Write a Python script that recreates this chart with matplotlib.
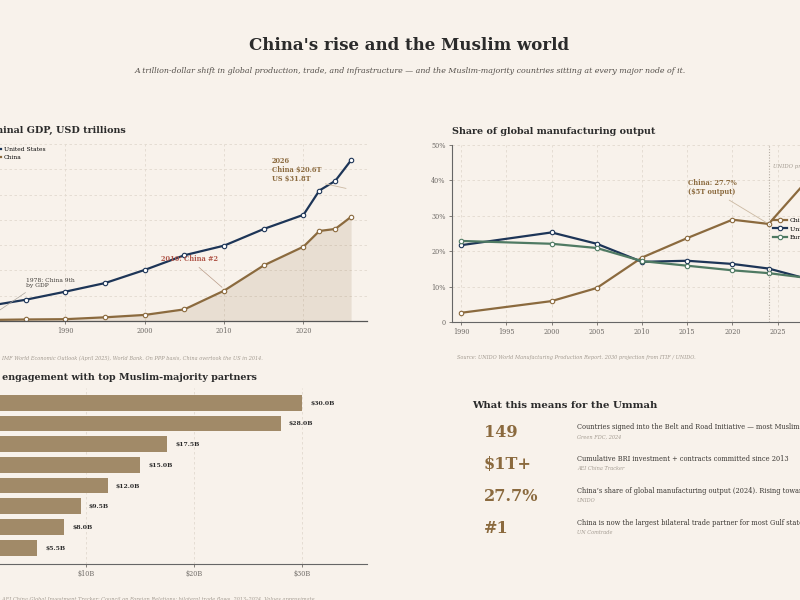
import matplotlib.pyplot as plt

BG = '#f8f2eb'
INK = '#2b2b2b'
GREY = '#6e6a66'
SOFT = '#a29a90'
GRID = '#e2dacf'
NAVY = '#1d3557'
GOLD = '#8b6a3e'
GREEN = '#4f7a63'
TAN = '#a18a68'
RUST = '#b0574a'

plt.rcParams['font.family'] = ['DejaVu Serif']

# --- data ---
gdp_years = [1980, 1985, 1990, 1995, 2000, 2005, 2010, 2015, 2020, 2022, 2024, 2026]
gdp_us = [2.9, 4.2, 5.8, 7.5, 10.1, 13.0, 14.9, 18.2, 21.0, 25.8, 27.7, 31.8]
gdp_china = [0.2, 0.3, 0.36, 0.73, 1.2, 2.3, 6.0, 11.0, 14.7, 17.8, 18.2, 20.6]

mfg_years = [1990, 2000, 2005, 2010, 2015, 2020, 2024, 2030]
mfg_china = [2.6, 5.9, 9.6, 18.2, 23.7, 28.9, 27.7, 45.0]
mfg_us = [21.7, 25.3, 22.1, 17.0, 17.3, 16.4, 15.1, 11.0]
mfg_europe = [22.9, 22.1, 20.9, 17.2, 15.9, 14.6, 13.8, 11.9]

partners = ['Saudi Arabia', 'UAE', 'Indonesia', 'Pakistan', 'Malaysia', 'Egypt', 'Iraq', 'Kazakhstan']
engagement = [30.0, 28.0, 17.5, 15.0, 12.0, 9.5, 8.0, 5.5]

stat_values = ['149', '$1T+', '27.7%', '#1']
stat_texts = ['Countries signed into the Belt and Road Initiative \u2014 most Muslim-majority nations among them',
              'Cumulative BRI investment + contracts committed since 2013',
              "China\u2019s share of global manufacturing output (2024). Rising toward 45% by 2030",
              'China is now the largest bilateral trade partner for most Gulf states and Central Asia']
stat_sources = ['Green FDC, 2024', 'AEI China Tracker', 'UNIDO', 'UN Comtrade']

W, H = 800, 600
fig = plt.figure(figsize=(8, 6), dpi=100, facecolor=BG)


def box(l, t, r, b):
    ax = fig.add_axes([l / W, 1 - b / H, (r - l) / W, (b - t) / H])
    ax.set_facecolor(BG)
    for s in ax.spines.values():
        s.set_visible(False)
    ax.tick_params(labelsize=4.7, colors=GREY, length=2.5, width=0.6, pad=2)
    return ax


def ftext(x, y, s, **kw):
    fig.text(x / W, 1 - y / H, s, **kw)


ftext(409, 46, "China's rise and the Muslim world", ha='center', va='center',
      fontsize=12, fontweight='bold', color=INK)
ftext(410, 71, 'A trillion-dollar shift in global production, trade, and infrastructure \u2014 and the '
      'Muslim-majority countries sitting at every major node of it.', ha='center', va='center',
      fontsize=5.65, style='italic', color='#55504b')

# --- GDP panel ---
ax = box(-22, 144, 367, 321)
ax.fill_between(gdp_years, gdp_china, color=GOLD, alpha=0.14, lw=0)
ax.plot(gdp_years, gdp_us, color=NAVY, lw=1.6, marker='o', ms=3.2, mfc='white', mec=NAVY, mew=0.8,
        label='United States')
ax.plot(gdp_years, gdp_china, color=GOLD, lw=1.6, marker='o', ms=3.2, mfc='white', mec=GOLD, mew=0.8,
        label='China')
ax.set_xlim(1979, 2028)
ax.set_ylim(0, 35)
ax.set_xticks([1980, 1990, 2000, 2010, 2020])
ax.set_yticks(range(0, 36, 5))
ax.grid(True, color=GRID, lw=0.6, ls=(0, (3, 3)))
ax.set_axisbelow(True)
ax.spines['bottom'].set_visible(True)
ax.spines['bottom'].set_color('#555')
ax.spines['bottom'].set_linewidth(0.9)
ax.set_title('Nominal GDP, USD trillions', loc='left', fontsize=6.9, fontweight='bold',
             color=INK, pad=8)
ax.legend(loc='upper left', bbox_to_anchor=(-13 / W, 1 - 147 / H), bbox_transform=fig.transFigure,
          frameon=False, fontsize=4.3, handlelength=2.3, handletextpad=0.5, labelspacing=0.5,
          borderpad=0, borderaxespad=0)
ax.annotate('2010: China #2', xy=(2010, 6.3), xytext=(2002.0, 12.3), fontsize=4.8,
            fontweight='bold', color=RUST, va='center',
            arrowprops=dict(arrowstyle='-', color='#b89a86', lw=0.5, shrinkB=2))
ax.annotate('2026\nChina $20.6T\nUS $31.8T', xy=(2025.7, 26.1), xytext=(2016.0, 32.4),
            fontsize=4.8, fontweight='bold', color=GOLD, va='top', linespacing=1.15,
            arrowprops=dict(arrowstyle='-', color='#cbb9a2', lw=0.6, relpos=(1, 0), shrinkA=1))
ax.annotate('1978: China 9th\nby GDP', xy=(1980, 0.3), xytext=(1985.05, 8.5), fontsize=4.3,
            color='#3d3a36', va='top', linespacing=1.05,
            arrowprops=dict(arrowstyle='-', color='#aaa49c', lw=0.5, relpos=(0.12, 0), shrinkA=2))
ftext(-19, 358, 'Source: IMF World Economic Outlook (April 2025), World Bank. On PPP basis, '
      'China overtook the US in 2014.', va='center', fontsize=3.6, style='italic', color=SOFT)

# --- manufacturing panel ---
ax = box(452, 145, 841, 322)
ax.plot(mfg_years, mfg_china, color=GOLD, lw=1.6, marker='o', ms=3.2, mfc='white', mec=GOLD, mew=0.8,
        label='China')
ax.plot(mfg_years, mfg_us, color=NAVY, lw=1.6, marker='o', ms=3.2, mfc='white', mec=NAVY, mew=0.8,
        label='United States')
ax.plot(mfg_years, mfg_europe, color=GREEN, lw=1.6, marker='o', ms=3.2, mfc='white', mec=GREEN,
        mew=0.8, label='Europe')
ax.set_xlim(1989, 2032)
ax.set_ylim(0, 50)
ax.set_xticks(range(1990, 2031, 5))
ax.set_yticks(range(0, 51, 10))
ax.set_yticklabels(['0'] + [f'{v}%' for v in range(10, 51, 10)])
ax.grid(True, color=GRID, lw=0.6, ls=(0, (3, 3)))
ax.set_axisbelow(True)
for s in ('left', 'bottom'):
    ax.spines[s].set_visible(True)
    ax.spines[s].set_color('#666')
    ax.spines[s].set_linewidth(0.8)
ax.axvline(2024, color='#b5ada3', lw=0.8, ls=(0, (1, 1.5)))
ax.text(2024.45, 43.8, 'UNIDO projection', fontsize=3.9, style='italic', color=SOFT, va='center')
ax.set_title('Share of global manufacturing output', loc='left', fontsize=6.9,
             fontweight='bold', color=INK, pad=8)
ax.annotate('China: 27.7%\n($5T output)', xy=(2024, 27.7), xytext=(2015.1, 40.4), fontsize=4.8,
            fontweight='bold', color=GOLD, va='top', linespacing=1.15,
            arrowprops=dict(arrowstyle='-', color='#cbb9a2', lw=0.6, relpos=(0.7, 0), shrinkB=2))
ax.legend(loc='upper left', bbox_to_anchor=(773 / W, 1 - 218 / H), bbox_transform=fig.transFigure,
          frameon=False, fontsize=4.5, handlelength=2.2, handletextpad=0.5, labelspacing=0.45,
          borderpad=0, borderaxespad=0)
ftext(457, 358, 'Source: UNIDO World Manufacturing Production Report. 2030 projection from ITIF / UNIDO.',
      va='center', fontsize=3.6, style='italic', color=SOFT)

# --- engagement bars ---
ax = box(-22, 388, 367, 564)
bars = ax.barh(range(len(partners)), engagement, height=0.76, color=TAN)
ax.bar_label(bars, labels=[f'${v:.1f}B' for v in engagement], padding=6, fontsize=4.4,
             fontweight='bold', color=INK)
ax.set_yticks(range(len(partners)))
ax.set_yticklabels(partners)
ax.set_xlim(0, 36)
ax.set_ylim(7.79, -0.71)
ax.set_xticks([0, 10, 20, 30])
ax.set_xticklabels(['$0', '$10B', '$20B', '$30B'])
ax.grid(True, axis='x', color=GRID, lw=0.6, ls=(0, (3, 3)))
ax.set_axisbelow(True)
ax.spines['bottom'].set_visible(True)
ax.spines['bottom'].set_color('#666')
ax.spines['bottom'].set_linewidth(0.8)
ax.set_title('BRI engagement with top Muslim-majority partners', loc='left', fontsize=6.9,
             fontweight='bold', color=INK, pad=6)
ftext(-19, 597, 'Source: AEI China Global Investment Tracker; Council on Foreign Relations; '
      'bilateral trade flows, 2013\u20132024. Values approximate.', va='top', fontsize=3.6,
      style='italic', color=SOFT)

# --- stats block ---
ftext(472, 405, 'What this means for the Ummah', va='center', fontsize=7.3, fontweight='bold',
      color=INK)
for i in range(len(stat_values)):
    y = 427 + 32 * i
    ftext(484, y + 10, stat_values[i], va='baseline', fontsize=11.6, fontweight='bold', color=GOLD)
    ftext(577, y, stat_texts[i], va='center', fontsize=4.8, color='#3a3733')
    ftext(577, y + 10, stat_sources[i], va='center', fontsize=3.6, style='italic', color=SOFT)

fig.savefig('out.png', dpi=100, facecolor=BG)
